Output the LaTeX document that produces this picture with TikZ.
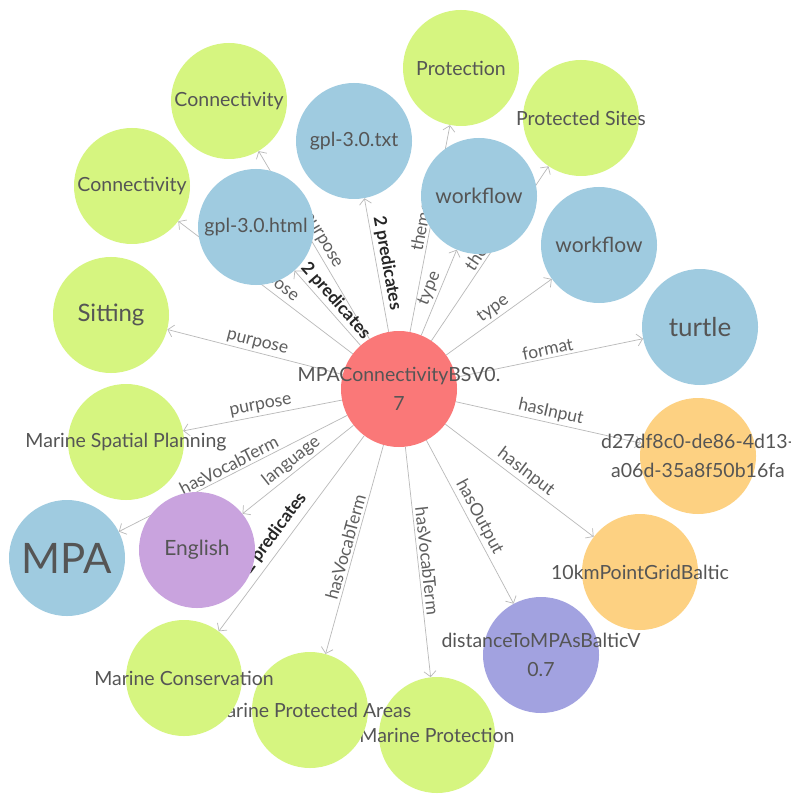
\documentclass[tikz,border=0pt]{standalone}
\usepackage{fontspec}
\setmainfont{Lato}
\usetikzlibrary{arrows.meta}
\pgfdeclarelayer{bglayer}
\pgfdeclarelayer{edgelayer}
\pgfsetlayers{bglayer,edgelayer,main}
\definecolor{cgreen}{RGB}{214,245,128}
\definecolor{cblue}{RGB}{159,203,224}
\definecolor{cred}{RGB}{250,120,120}
\definecolor{cpurple}{RGB}{201,163,222}
\definecolor{corange}{RGB}{253,209,130}
\definecolor{cviolet}{RGB}{162,162,224}
\definecolor{txtgray}{RGB}{85,85,85}
\definecolor{lblgray}{RGB}{95,95,95}
\definecolor{edgegray}{RGB}{185,185,185}
\tikzset{
  ent/.style={circle, minimum size=116pt, inner sep=0pt, draw=none, fill=#1},
  ntxt/.style={font=\fontsize{19.5}{29}\selectfont, text=txtgray, align=center, inner sep=0pt},
  rel/.style={draw=edgegray, line width=0.7pt, -{Straight Barb[length=5.5pt,width=12pt]}},
  elbl/.style={midway, sloped, above=1.5pt, inner sep=1pt, text=lblgray, font=\fontsize{17.5}{17.5}\selectfont},
  elblb/.style={elbl, text=black!85, font=\bfseries\fontsize{17.5}{17.5}\selectfont},
}
\begin{document}
\begin{tikzpicture}[x=1pt, y=-1pt]
\useasboundingbox (0,0) rectangle (790,799);
\begin{pgfonlayer}{bglayer}
\fill[white] (0,0) rectangle (790,799);
\end{pgfonlayer}

% hub resource
\node[ent=cred, label={[ntxt]center:MPAConnectivityBSV0.\\7}] (hub) at (399,389) {};

% linked resources (drawn in this order so later circles overlap earlier texts)
\node[ent=cgreen, label={[ntxt]center:Connectivity}] (conU) at (229,101) {};
\node[ent=cgreen, label={[ntxt]center:Connectivity}] (conL) at (132,186) {};
\node[ent=cblue, label={[ntxt]center:gpl-3.0.html}] (html) at (256,227) {};
\node[ent=cblue, label={[ntxt]center:gpl-3.0.txt}] (txt) at (354,141) {};
\node[ent=cgreen, label={[ntxt]center:Protection}] (prot) at (461,68) {};
\node[ent=cgreen, label={[ntxt]center:Protected Sites}] (psites) at (581,118) {};
\node[ent=cblue, label={[ntxt, font=\fontsize{21}{29}\selectfont]center:workflow}] (wf1) at (479,196) {};
\node[ent=cblue, label={[ntxt, font=\fontsize{21}{29}\selectfont]center:workflow}] (wf2) at (599,245) {};
\node[ent=cblue, label={[ntxt, font=\fontsize{26}{29}\selectfont]center:turtle}] (turtle) at (700,327) {};
\node[ent=cgreen, label={[ntxt, font=\fontsize{24}{29}\selectfont]center:Sitting}] (sit) at (111,315) {};
\node[ent=cgreen, label={[ntxt]center:Marine Spatial Planning}] (msp) at (126,442) {};
\node[ent=cblue, label={[ntxt, font=\fontsize{42}{42}\selectfont]center:MPA}] (mpa) at (67,558) {};
\node[ent=cpurple, label={[ntxt, font=\fontsize{21}{29}\selectfont]center:English}] (eng) at (197,550) {};
\node[ent=corange, label={[ntxt]center:d27df8c0-de86-4d13-\\a06d-35a8f50b16fa}] (uuid) at (698,456) {};
\node[ent=corange, label={[ntxt]center:10kmPointGridBaltic}] (grid) at (640,572) {};
\node[ent=cviolet, label={[ntxt]center:distanceToMPAsBalticV\\0.7}] (dist) at (541,655) {};
\node[ent=cgreen, label={[ntxt]center:Marine Protection}] (mprot) at (437,735) {};
\node[ent=cgreen, label={[ntxt]center:Marine Protected Areas}] (mpas) at (310,710) {};
\node[ent=cgreen, label={[ntxt]center:Marine Conservation}] (mcons) at (184,678) {};

% predicates
\begin{pgfonlayer}{edgelayer}
\draw[rel] (hub) -- node[elbl]{purpose} (conU);
\draw[rel] (hub) -- node[elbl]{purpose} (conL);
\draw[rel] (hub) -- node[elblb]{2 predicates} (html);
\draw[rel] (hub) -- node[elblb]{2 predicates} (txt);
\draw[rel] (hub) -- node[elbl]{theme} (prot);
\draw[rel] (hub) -- node[elbl]{theme} (psites);
\draw[rel] (hub) -- node[elbl]{type} (wf1);
\draw[rel] (hub) -- node[elbl]{type} (wf2);
\draw[rel] (hub) -- node[elbl]{format} (turtle);
\draw[rel] (hub) -- node[elbl]{purpose} (sit);
\draw[rel] (hub) -- node[elbl]{purpose} (msp);
\draw[rel] (hub) -- node[elbl]{hasVocabTerm} (mpa);
\draw[rel] (hub) -- node[elbl]{language} (eng);
\draw[rel] (hub) -- node[elblb, pos=0.54, above=3pt]{2 predicates} (mcons);
\draw[rel] (hub) -- node[elbl]{hasVocabTerm} (mpas);
\draw[rel] (hub) -- node[elbl]{hasVocabTerm} (mprot);
\draw[rel] (hub) -- node[elbl]{hasOutput} (dist);
\draw[rel] (hub) -- node[elbl]{hasInput} (grid);
\draw[rel] (hub) -- node[elbl]{hasInput} (uuid);
\end{pgfonlayer}
\end{tikzpicture}
\end{document}
